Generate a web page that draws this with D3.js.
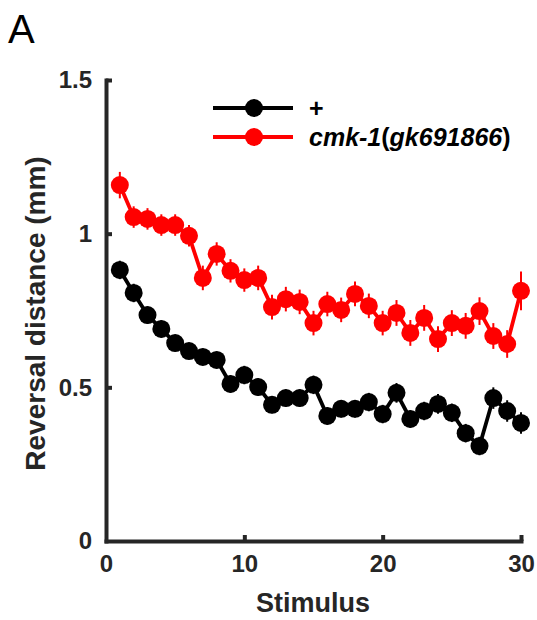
<!DOCTYPE html>
<html>
<head>
<meta charset="utf-8">
<script src="https://cdn.jsdelivr.net/npm/d3@7"></script>
<style>
  html, body { margin: 0; padding: 0; background: #fff; }
  svg { display: block; font-family: "Liberation Sans", Arial, Helvetica, sans-serif; }
</style>
</head>
<body>
<svg id="chart" width="537" height="620"></svg>
<script>
// ---- data ----
const stimuli = d3.range(1, 31);
const wildType = [0.882, 0.807, 0.735, 0.690, 0.644, 0.618, 0.599, 0.589, 0.511, 0.540,
                  0.501, 0.443, 0.465, 0.465, 0.508, 0.407, 0.430, 0.430, 0.452, 0.413,
                  0.482, 0.397, 0.423, 0.446, 0.417, 0.351, 0.309, 0.465, 0.423, 0.384];
const wildTypeErr = [0.030, 0.030, 0.028, 0.028, 0.027, 0.027, 0.027, 0.027, 0.028, 0.030,
                     0.028, 0.027, 0.028, 0.028, 0.030, 0.028, 0.028, 0.028, 0.030, 0.030,
                     0.032, 0.028, 0.030, 0.032, 0.030, 0.030, 0.030, 0.035, 0.035, 0.035];
const cmk1 = [1.158, 1.054, 1.048, 1.028, 1.028, 0.993, 0.856, 0.934, 0.879, 0.849,
              0.856, 0.761, 0.787, 0.778, 0.709, 0.771, 0.752, 0.804, 0.765, 0.709,
              0.742, 0.677, 0.726, 0.657, 0.709, 0.700, 0.748, 0.667, 0.641, 0.814];
const cmk1Err = [0.043, 0.035, 0.035, 0.035, 0.035, 0.035, 0.040, 0.038, 0.038, 0.038,
                 0.040, 0.040, 0.040, 0.040, 0.040, 0.040, 0.040, 0.040, 0.040, 0.040,
                 0.042, 0.042, 0.042, 0.042, 0.042, 0.042, 0.045, 0.042, 0.045, 0.063];
const seriesNames = ["wt", "cmk1"];
const seriesColors = ["#000000", "#ff0000"];
const xTicks = [0, 10, 20, 30];
const yTicks = [0, 0.5, 1, 1.5];
const yTickLabels = ["0", "0.5", "1", "1.5"];

// ---- layout ----
const svg = d3.select("#chart");
const axisColor = "#262626";
const x = d3.scaleLinear().domain([0, 30]).range([106, 521]);
const y = d3.scaleLinear().domain([0, 1.5]).range([541, 80]);

// panel letter
svg.append("text").attr("x", 8).attr("y", 43)
  .attr("font-size", 40).attr("fill", "#000").text("A");

// axes
const xAxis = d3.axisBottom(x).tickValues(xTicks).tickSizeInner(-6).tickSizeOuter(0).tickPadding(14);
const gx = svg.append("g").attr("transform", `translate(0,${y(0)})`).call(xAxis);
const yAxis = d3.axisLeft(y).tickValues(yTicks).tickFormat((d, i) => yTickLabels[i])
  .tickSizeInner(-6).tickSizeOuter(0).tickPadding(14);
const gy = svg.append("g").attr("transform", `translate(${x(0)},0)`).call(yAxis);

[gx, gy].forEach(g => {
  g.select(".domain").attr("stroke", axisColor).attr("stroke-width", 4).attr("stroke-linecap", "square");
  g.selectAll(".tick line").attr("stroke", axisColor).attr("stroke-width", 4);
  g.selectAll(".tick text").attr("fill", axisColor).attr("font-size", 24)
    .attr("font-weight", "bold").attr("font-family", "Liberation Sans, Arial, sans-serif");
});
gx.selectAll(".tick text").attr("dy", "0.71em");
gx.selectAll(".tick").filter(d => d === 0).select("line").remove();
gy.selectAll(".tick").filter(d => d === 0).select("line").remove();

// axis labels
svg.append("text").attr("x", 313).attr("y", 612).attr("text-anchor", "middle")
  .attr("font-size", 27).attr("font-weight", "bold").attr("fill", axisColor).text("Stimulus");
svg.append("text").attr("transform", `translate(45,${(y(0) + y(1.5)) / 2 + 3}) rotate(-90)`)
  .attr("text-anchor", "middle").attr("font-size", 28).attr("font-weight", "bold")
  .attr("fill", axisColor).text("Reversal distance (mm)");

// series
const data = [
  { name: seriesNames[0], color: seriesColors[0], vals: wildType, err: wildTypeErr },
  { name: seriesNames[1], color: seriesColors[1], vals: cmk1, err: cmk1Err }
];
const line = d3.line().x((d, i) => x(stimuli[i])).y(d => y(d));
data.forEach(s => {
  const g = svg.append("g");
  g.append("path").datum(s.vals).attr("d", line).attr("fill", "none")
    .attr("stroke", s.color).attr("stroke-width", 3.8).attr("stroke-linejoin", "round");
  g.selectAll("line.err").data(s.vals).join("line").attr("class", "err")
    .attr("x1", (d, i) => x(stimuli[i])).attr("x2", (d, i) => x(stimuli[i]))
    .attr("y1", (d, i) => y(d - s.err[i])).attr("y2", (d, i) => y(d + s.err[i]))
    .attr("stroke", s.color).attr("stroke-width", 2);
  g.selectAll("circle").data(s.vals).join("circle")
    .attr("cx", (d, i) => x(stimuli[i])).attr("cy", d => y(d)).attr("r", 9)
    .attr("fill", s.color);
});

// legend
const legendRows = [
  { color: seriesColors[0], y: 108 },
  { color: seriesColors[1], y: 137 }
];
legendRows.forEach(r => {
  svg.append("line").attr("x1", 213).attr("x2", 293).attr("y1", r.y).attr("y2", r.y)
    .attr("stroke", r.color).attr("stroke-width", 4);
  svg.append("circle").attr("cx", 254).attr("cy", r.y).attr("r", 9).attr("fill", r.color);
});
svg.append("text").attr("x", 309).attr("y", 117).attr("font-size", 25)
  .attr("font-weight", "bold").attr("fill", "#000").text("+");
const t2 = svg.append("text").attr("x", 309).attr("y", 146).attr("font-size", 25)
  .attr("font-weight", "bold").attr("fill", "#000");
t2.append("tspan").attr("font-style", "italic").text("cmk-1");
t2.append("tspan").text("(");
t2.append("tspan").attr("font-style", "italic").text("gk691866");
t2.append("tspan").text(")");
</script>
</body>
</html>
